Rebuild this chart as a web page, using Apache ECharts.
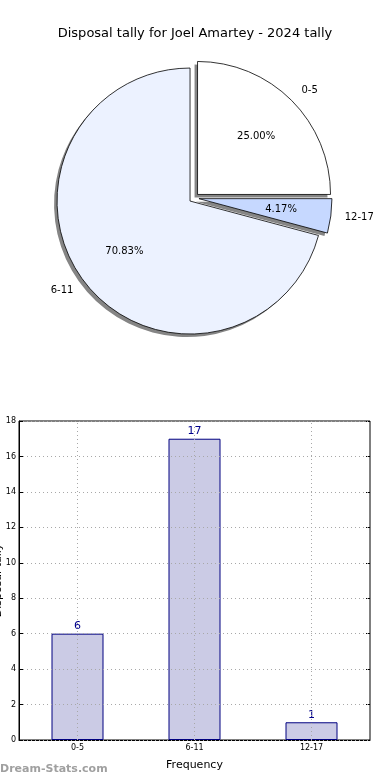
<!DOCTYPE html>
<html>
<head>
<meta charset="utf-8">
<script src="https://cdn.jsdelivr.net/npm/echarts@6/dist/echarts.min.js"></script>
<style>
html,body{margin:0;padding:0;background:#fff;}
#chart{width:390px;height:780px;}
</style>
</head>
<body>
<div id="chart"></div>
<script>
const titleText = 'Disposal tally for Joel Amartey - 2024 tally';
const categories = ['0-5', '6-11', '12-17'];
const counts = [6, 17, 1];
const pieOrder = [0, 2, 1];
const sliceColors = ['#ffffff', '#ecf2ff', '#c6d8ff'];
const yTicks = { min: 0, max: 18, interval: 2 };
const xAxisName = 'Frequency';
const yAxisName = 'Disposal tally';
const watermark = 'Dream-Stats.com';

const FONT = 'DejaVu Sans';
const pieCenter = [194, 198];
const pieR = 133;

const pieData = pieOrder.map(i => ({
  name: categories[i],
  value: counts[i],
  selected: true,
  itemStyle: { color: sliceColors[i] }
}));
const pieShadowData = pieOrder.map(i => ({
  name: categories[i],
  value: counts[i],
  selected: true
}));

const chart = echarts.init(document.getElementById('chart'), null, { renderer: 'canvas' });
chart.setOption({
  animation: false,
  textStyle: { fontFamily: FONT },
  title: {
    text: titleText,
    left: 'center',
    top: 22,
    textStyle: { fontFamily: FONT, fontSize: 13, fontWeight: 'normal', color: '#000' }
  },
  grid: {
    left: 19, top: 421, width: 351, height: 319,
    outerBoundsMode: 'none',
    containLabel: false,
    show: true, borderColor: '#000', borderWidth: 1, backgroundColor: '#fff'
  },
  xAxis: [{
    type: 'category',
    data: categories,
    name: xAxisName,
    nameLocation: 'middle',
    nameGap: 20,
    nameTextStyle: { fontFamily: FONT, fontSize: 11, color: '#000' },
    axisLine: { lineStyle: { color: '#000', width: 1 } },
    axisTick: { inside: true, alignWithLabel: true, length: 4, lineStyle: { color: '#000' } },
    axisLabel: { fontFamily: FONT, fontSize: 8, color: '#000', margin: 4 },
    splitLine: { show: false }
  }, {
    type: 'category',
    data: categories,
    position: 'top',
    axisLine: { show: false },
    axisTick: { inside: true, alignWithLabel: true, length: 4, lineStyle: { color: '#000' } },
    axisLabel: { show: false },
    splitLine: { show: false }
  }],
  yAxis: [{
    type: 'value',
    min: yTicks.min, max: yTicks.max, interval: yTicks.interval,
    name: yAxisName,
    nameLocation: 'middle',
    nameGap: 15,
    nameMoveOverlap: false,
    nameTextStyle: { fontFamily: FONT, fontSize: 11, color: '#000' },
    z: 3,
    axisLine: { show: true, lineStyle: { color: '#000', width: 1 } },
    axisTick: { show: true, inside: true, length: 4, lineStyle: { color: '#000' } },
    axisLabel: { fontFamily: FONT, fontSize: 8, color: '#000', margin: 3 },
    splitLine: { show: true, lineStyle: { type: [1, 3], color: '#a8a8a8', width: 1 } }
  }, {
    type: 'value',
    position: 'right',
    min: yTicks.min, max: yTicks.max, interval: yTicks.interval,
    axisLine: { show: false },
    axisTick: { show: true, inside: true, length: 4, lineStyle: { color: '#000' } },
    axisLabel: { show: false },
    splitLine: { show: false }
  }],
  series: [{
    // shadow layer
    type: 'pie',
    center: [pieCenter[0] - 3, pieCenter[1] + 3],
    radius: pieR,
    startAngle: 90,
    clockwise: true,
    selectedMode: 'multiple',
    selectedOffset: 5,
    avoidLabelOverlap: false,
    silent: true,
    z: 1,
    itemStyle: { color: '#858585', borderWidth: 0 },
    select: { itemStyle: { color: '#858585', borderWidth: 0 } },
    label: { show: false },
    labelLine: { show: false },
    data: pieShadowData
  }, {
    type: 'pie',
    center: pieCenter,
    radius: pieR,
    startAngle: 90,
    clockwise: true,
    selectedMode: 'multiple',
    selectedOffset: 5,
    avoidLabelOverlap: false,
    silent: true,
    z: 2,
    itemStyle: { borderColor: '#000', borderWidth: 0.8 },
    select: { itemStyle: { borderColor: '#000', borderWidth: 0.8 } },
    label: {
      show: true, position: 'outside', formatter: '{b}',
      fontFamily: FONT, fontSize: 10, color: '#000', distanceToLabelLine: 0
    },
    labelLine: { show: false, length: 14, length2: 0 },
    data: pieData
  }, {
    // percentage labels at 0.6 radius
    type: 'pie',
    center: pieCenter,
    radius: pieR * 1.2,
    startAngle: 90,
    clockwise: true,
    selectedMode: 'multiple',
    selectedOffset: 5,
    avoidLabelOverlap: false,
    silent: true,
    z: 3,
    itemStyle: { color: 'rgba(0,0,0,0)', borderWidth: 0 },
    select: { itemStyle: { color: 'rgba(0,0,0,0)', borderWidth: 0 } },
    label: {
      show: true, position: 'inside',
      formatter: p => p.percent.toFixed(2) + '%',
      fontFamily: FONT, fontSize: 10, color: '#000'
    },
    labelLine: { show: false },
    data: pieShadowData
  }, {
    type: 'bar',
    xAxisIndex: 0,
    yAxisIndex: 0,
    data: counts,
    barWidth: 52,
    itemStyle: { color: '#cbcbe5', borderColor: '#000080', borderWidth: 1 },
    label: { show: true, position: 'top', distance: 2, fontFamily: FONT, fontSize: 11, color: '#00008b' },
    markLine: {
      silent: true,
      symbol: 'none',
      label: { show: false },
      lineStyle: { type: [1, 3], color: '#a8a8a8', width: 1 },
      data: categories.map(c => ({ xAxis: c }))
    }
  }],
  graphic: [{
    type: 'text',
    left: 0,
    top: 764,
    style: { text: watermark, font: 'bold 11px "DejaVu Sans"', fill: '#a0a0a0' }
  }]
});
</script>
</body>
</html>
